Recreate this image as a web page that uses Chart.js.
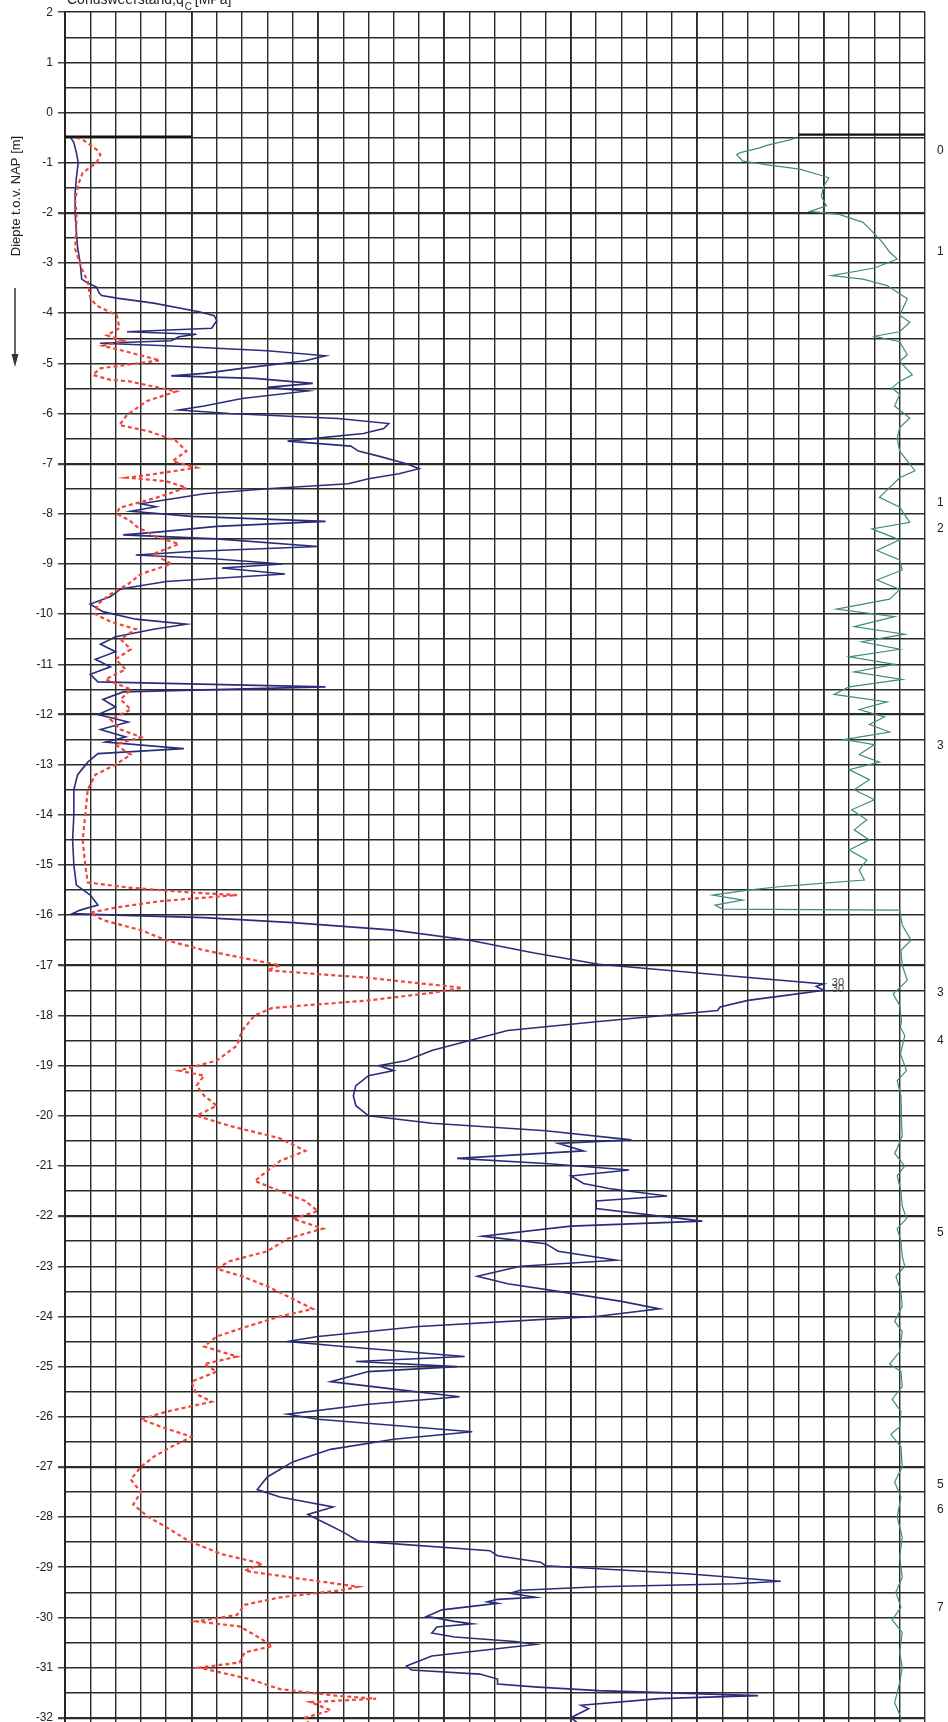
<!DOCTYPE html>
<html>
<head>
<meta charset="utf-8">
<script src="https://cdn.jsdelivr.net/npm/chart.js@4"></script>
<style>
  html, body { margin: 0; padding: 0; background: #fff; overflow: hidden; }
  #sondering { display: block; }
</style>
</head>
<body>
<canvas id="sondering" width="948" height="1755"></canvas>
<script>
// conusweerstand qc [MPa]
const qcDepth = [-0.48,-0.6,-0.8,-1.0,-1.3,-1.6,-2.0,-2.4,-2.7,-3.0,-3.32,-3.4,-3.48,-3.6,-3.65,-3.7,-3.8,-3.97,-4.05,-4.15,-4.3,-4.37,-4.42,-4.47,-4.55,-4.6,-4.65,-4.75,-4.85,-4.95,-5.1,-5.2,-5.25,-5.3,-5.4,-5.48,-5.55,-5.7,-5.85,-5.93,-6.0,-6.1,-6.2,-6.3,-6.4,-6.55,-6.65,-6.75,-6.85,-7.0,-7.1,-7.2,-7.3,-7.4,-7.5,-7.6,-7.73,-7.8,-7.86,-7.95,-8.05,-8.15,-8.25,-8.36,-8.42,-8.5,-8.65,-8.75,-8.82,-8.9,-9.0,-9.08,-9.2,-9.35,-9.5,-9.65,-9.8,-9.95,-10.1,-10.2,-10.3,-10.45,-10.6,-10.75,-10.9,-11.05,-11.2,-11.35,-11.45,-11.55,-11.7,-11.85,-12.0,-12.15,-12.3,-12.45,-12.55,-12.68,-12.78,-12.95,-13.2,-13.5,-14.0,-14.5,-15.0,-15.4,-15.6,-15.8,-15.9,-15.97,-16.0,-16.05,-16.15,-16.3,-16.5,-16.75,-16.98,-17.2,-17.37,-17.42,-17.5,-17.6,-17.7,-17.83,-17.9,-18.12,-18.3,-18.5,-18.7,-18.9,-19.0,-19.1,-19.2,-19.4,-19.6,-19.8,-20.0,-20.15,-20.3,-20.48,-20.55,-20.7,-20.85,-20.95,-21.08,-21.2,-21.35,-21.45,-21.6,-21.7,-21.85,-22.1,-22.2,-22.4,-22.55,-22.7,-22.88,-23.0,-23.2,-23.35,-23.5,-23.7,-23.85,-24.0,-24.2,-24.4,-24.5,-24.6,-24.8,-24.9,-25.0,-25.1,-25.3,-25.45,-25.6,-25.75,-25.95,-26.05,-26.3,-26.45,-26.65,-26.9,-27.2,-27.45,-27.6,-27.8,-27.95,-28.1,-28.3,-28.48,-28.67,-28.77,-28.9,-28.97,-29.03,-29.13,-29.28,-29.33,-29.39,-29.46,-29.52,-29.6,-29.64,-29.69,-29.72,-29.85,-29.98,-30.08,-30.13,-30.19,-30.31,-30.39,-30.48,-30.54,-30.64,-30.77,-30.97,-31.05,-31.13,-31.23,-31.33,-31.39,-31.46,-31.56,-31.62,-31.75,-31.82,-32.0,-32.4];
const qcValue = [0.2,0.35,0.45,0.52,0.45,0.4,0.4,0.45,0.5,0.6,0.66,0.9,1.25,1.35,1.45,2.05,3.5,5.3,5.9,6.0,5.8,2.45,5.2,4.5,4.2,1.38,4.0,8.0,10.3,9.5,7.0,5.5,4.2,7.5,9.8,8.0,9.6,7.0,5.5,4.5,6.5,10.8,12.8,12.6,11.8,8.8,11.3,11.6,12.4,13.5,14.0,13.2,12.0,11.2,8.0,5.5,3.87,3.0,3.6,2.6,5.0,10.3,6.0,3.75,2.3,6.0,10.0,5.0,2.8,6.0,8.6,6.2,8.7,4.0,2.2,1.8,1.0,1.5,2.8,4.8,3.5,2.0,1.4,2.0,1.2,1.8,1.0,1.3,10.3,2.3,1.5,2.0,1.3,2.5,1.4,2.4,1.6,4.7,1.3,0.9,0.5,0.35,0.35,0.3,0.35,0.45,1.0,1.3,0.6,0.3,2.0,5.5,9.0,13.0,16.0,18.5,21.1,26.0,30.0,29.7,30.0,28.5,27.0,25.9,25.8,21.1,17.5,16.0,14.5,13.5,12.4,13.0,12.0,11.5,11.4,11.5,12.0,14.5,19.0,22.4,19.5,20.5,15.5,19.0,22.3,20.0,20.5,21.5,23.8,21.0,21.0,25.2,20.0,16.5,19.0,19.5,21.8,18.0,16.3,17.5,19.5,22.0,23.5,21.0,14.0,10.0,8.8,11.0,15.8,11.5,15.5,12.0,10.5,13.0,15.6,12.0,8.8,10.0,16.1,13.0,10.5,9.0,8.0,7.6,8.5,10.6,9.6,10.2,11.0,11.6,16.8,17.1,18.8,19.0,21.1,24.6,28.3,26.5,21.1,18.0,17.6,18.6,17.1,16.7,17.1,14.9,14.3,15.4,16.1,14.7,14.5,15.4,17.8,18.6,16.8,14.5,13.5,13.7,16.4,17.1,17.1,18.7,21.1,27.4,23.5,20.4,20.7,20.0,21.0];

// plaatselijke wrijving fs [kPa]
const fsDepth = [-0.5,-0.54,-0.74,-0.84,-1.0,-1.2,-1.4,-1.73,-2.0,-2.27,-2.72,-3.1,-3.37,-3.7,-3.85,-4.04,-4.3,-4.44,-4.55,-4.65,-4.77,-4.94,-5.1,-5.23,-5.33,-5.36,-5.56,-5.75,-6.03,-6.23,-6.36,-6.55,-6.75,-6.95,-7.08,-7.22,-7.28,-7.35,-7.48,-7.68,-7.88,-8.0,-8.13,-8.26,-8.46,-8.6,-8.8,-9.0,-9.2,-9.4,-9.6,-9.8,-10.0,-10.15,-10.3,-10.5,-10.7,-10.9,-11.1,-11.3,-11.5,-11.7,-11.9,-12.1,-12.3,-12.45,-12.6,-12.8,-13.0,-13.2,-13.5,-14.0,-14.5,-15.0,-15.35,-15.45,-15.55,-15.6,-15.72,-15.85,-15.95,-16.1,-16.3,-16.5,-16.7,-16.9,-17.0,-17.1,-17.25,-17.45,-17.55,-17.7,-17.85,-18.0,-18.3,-18.6,-18.9,-19.1,-19.2,-19.4,-19.6,-19.8,-20.0,-20.2,-20.45,-20.7,-20.9,-21.1,-21.3,-21.5,-21.7,-21.9,-22.05,-22.25,-22.45,-22.7,-22.9,-23.05,-23.2,-23.4,-23.6,-23.85,-24.0,-24.2,-24.4,-24.6,-24.8,-24.95,-25.1,-25.3,-25.55,-25.7,-25.9,-26.05,-26.2,-26.4,-26.6,-26.8,-27.0,-27.25,-27.5,-27.75,-28.0,-28.2,-28.48,-28.74,-28.93,-29.07,-29.13,-29.39,-29.46,-29.6,-29.75,-29.95,-30.08,-30.18,-30.35,-30.57,-30.7,-30.9,-31.0,-31.23,-31.43,-31.56,-31.62,-31.69,-31.85,-32.0,-32.4];
const fsValue = [9,14,25,28,25,14,11,8,9,9,8,13,18,20,25,41,43,33,46,30,49,75,28,22,36,51,88,65,49,43,67,88,96,85,104,67,49,80,96,72,43,41,51,57,72,90,70,84,60,50,36,26,24,36,56,44,52,40,48,32,52,44,52,36,44,60,40,52,40,24,18,16,14,16,18,50,100,136,76,40,20,30,60,80,110,150,170,160,240,314,290,240,164,150,140,136,120,90,110,104,110,120,104,130,170,190,170,160,150,170,190,200,180,204,176,160,130,120,140,160,176,196,170,144,120,110,136,110,120,100,104,116,80,60,76,100,84,70,60,52,60,54,66,80,98,124,156,142,158,232,218,170,142,136,104,138,150,164,142,138,106,146,170,214,246,194,210,190,200];

// wrijvingsgetal Rf [%]
const rfDepth = [-0.5,-0.54,-0.6,-0.66,-0.7,-0.8,-0.84,-0.97,-1.04,-1.13,-1.3,-1.47,-1.67,-1.86,-1.97,-2.03,-2.19,-2.39,-2.58,-2.78,-2.92,-3.1,-3.25,-3.32,-3.45,-3.71,-4.04,-4.18,-4.37,-4.46,-4.57,-4.83,-4.96,-5.23,-5.36,-5.49,-5.62,-5.85,-6.09,-6.28,-6.5,-6.75,-7.14,-7.28,-7.67,-7.87,-8.17,-8.3,-8.52,-8.73,-8.92,-9.12,-9.32,-9.51,-9.7,-9.9,-10.05,-10.25,-10.4,-10.55,-10.7,-10.85,-11.0,-11.15,-11.3,-11.45,-11.6,-11.75,-11.9,-12.05,-12.2,-12.35,-12.5,-12.6,-12.8,-12.95,-13.1,-13.3,-13.5,-13.7,-13.9,-14.1,-14.3,-14.5,-14.7,-14.9,-15.1,-15.3,-15.42,-15.5,-15.6,-15.7,-15.8,-15.88,-15.9,-16.2,-16.5,-16.7,-17.0,-17.3,-17.57,-17.8,-18.1,-18.24,-18.4,-18.77,-19.1,-19.3,-19.6,-19.9,-20.1,-20.4,-20.68,-20.75,-21.0,-21.2,-21.5,-21.8,-22.05,-22.25,-22.5,-22.8,-23.0,-23.2,-23.5,-23.8,-24.1,-24.3,-24.7,-24.95,-25.1,-25.4,-25.65,-25.9,-26.2,-26.35,-26.6,-27.0,-27.3,-27.6,-28.0,-28.4,-28.8,-29.2,-29.5,-29.8,-30.05,-30.3,-30.7,-31.0,-31.3,-31.7,-32.0,-32.4];
const rfValue = [5.1,5.3,5.8,6.3,6.5,7.3,7.45,7.2,6.3,4.95,3.8,4.0,4.1,3.9,4.55,3.4,2.45,2.05,1.7,1.4,1.1,2.0,3.7,2.45,1.5,0.7,1.0,0.6,1.0,2.0,1.0,0.7,1.0,0.5,1.0,1.3,1.0,1.2,0.6,1.0,1.1,1.0,0.4,1.0,1.8,1.0,0.6,2.1,1.0,1.9,1.0,0.9,1.9,1.0,1.4,3.5,1.2,2.8,0.8,2.5,1.0,3.0,1.2,2.8,0.9,3.0,3.6,1.5,2.6,1.6,2.2,1.4,3.2,2.0,2.6,1.8,3.0,2.2,2.8,2.0,2.9,2.3,2.8,2.2,3.0,2.3,2.6,2.4,5.5,7.0,8.4,7.2,8.3,8.0,1.0,0.9,0.55,0.95,0.9,0.7,1.26,1.0,0.93,0.97,0.8,0.97,0.73,1.1,0.95,0.93,0.93,0.9,1.13,1.2,0.8,1.1,0.95,0.9,0.73,1.1,0.95,0.9,0.8,1.15,0.95,0.9,1.2,0.9,1.0,1.4,0.95,0.9,1.3,0.95,1.0,1.35,0.95,0.9,1.2,0.95,1.1,0.9,1.0,0.9,1.15,0.95,1.3,0.9,1.0,0.9,1.0,1.2,0.95,1.0];

// start niveau van de sondering
const qcStartDepth = -0.48;
const qcStartRange = [0, 5];
const rfStartDepth = -0.44;
const rfStartRange = [0, 5];

// afgekapte waarden (qc > 30 MPa)
const clipDepth = [-17.37, -17.5];
const clipValue = [30, 30];

// labels rechts naast de grafiek
const sideDepth = [-0.77, -2.77, -7.77, -8.3, -12.62, -17.55, -18.5, -22.34, -27.35, -27.85, -29.8];
const sideText = ["0", "1", "1", "2", "3", "3", "4", "5", "5", "6", "7"];

const depthMin = -32.5;
const depthMax = 2;
const heavyDepths = [-2, -7, -12, -17, -22, -27, -32];

function toPoints(depths, values) {
  let pts = [];
  let i = 0;
  while (i < depths.length) {
    pts.push({ x: values[i], y: depths[i] });
    i++;
  }
  return pts;
}

const textPlugin = {
  id: "sonderingText",
  afterDraw(chart) {
    const ctx = chart.ctx;
    const x = chart.scales.x;
    const y = chart.scales.y;
    ctx.save();
    ctx.fillStyle = "#222";

    // titel (valt grotendeels buiten beeld)
    ctx.font = "14px 'Liberation Sans', Arial, sans-serif";
    ctx.textAlign = "left";
    ctx.textBaseline = "alphabetic";
    ctx.fillText("Conusweerstand,q", 67, 4);
    let w = ctx.measureText("Conusweerstand,q").width;
    ctx.font = "10px 'Liberation Sans', Arial, sans-serif";
    ctx.fillText("C", 67 + w + 1, 10);
    ctx.font = "14px 'Liberation Sans', Arial, sans-serif";
    ctx.fillText("[MPa]", 67 + w + 11, 4);

    // as-titel diepte
    ctx.save();
    ctx.translate(16, 196);
    ctx.rotate(-Math.PI / 2);
    ctx.font = "13px 'Liberation Sans', Arial, sans-serif";
    ctx.textAlign = "center";
    ctx.textBaseline = "middle";
    ctx.fillText("Diepte t.o.v. NAP [m]", 0, 0);
    ctx.restore();

    // pijl naar beneden
    ctx.strokeStyle = "#333";
    ctx.lineWidth = 1.5;
    ctx.beginPath();
    ctx.moveTo(15, 288);
    ctx.lineTo(15, 358);
    ctx.stroke();
    ctx.fillStyle = "#333";
    ctx.beginPath();
    ctx.moveTo(11.5, 354);
    ctx.lineTo(18.5, 354);
    ctx.lineTo(15, 367);
    ctx.closePath();
    ctx.fill();

    // labels rechts
    ctx.fillStyle = "#222";
    ctx.font = "12px 'Liberation Sans', Arial, sans-serif";
    ctx.textAlign = "left";
    ctx.textBaseline = "middle";
    let k = 0;
    while (k < sideDepth.length) {
      ctx.fillText(sideText[k], 937, y.getPixelForValue(sideDepth[k]));
      k++;
    }

    // 30 bij afgekapte pieken
    ctx.font = "11px 'Liberation Sans', Arial, sans-serif";
    ctx.fillStyle = "#444";
    let c = 0;
    while (c < clipDepth.length) {
      ctx.fillText(String(clipValue[c]), x.getPixelForValue(clipValue[c]) + 8, y.getPixelForValue(clipDepth[c]) - 1);
      c++;
    }
    ctx.restore();
  },
};

new Chart(document.getElementById("sondering"), {
  type: "line",
  data: {
    datasets: [
      {
        label: "qc start",
        data: [{ x: qcStartRange[0], y: qcStartDepth }, { x: qcStartRange[1], y: qcStartDepth }],
        borderColor: "#111",
        borderWidth: 2.2,
        xAxisID: "x",
      },
      {
        label: "Rf start",
        data: [{ x: rfStartRange[0], y: rfStartDepth }, { x: rfStartRange[1], y: rfStartDepth }],
        borderColor: "#111",
        borderWidth: 2.2,
        xAxisID: "xRf",
      },
      {
        label: "fs",
        data: toPoints(fsDepth, fsValue),
        borderColor: "#f0463a",
        borderWidth: 2.2,
        borderDash: [4, 3],
        xAxisID: "xFs",
      },
      {
        label: "Rf",
        data: toPoints(rfDepth, rfValue),
        borderColor: "#3f8c80",
        borderWidth: 1.2,
        xAxisID: "xRf",
      },
      {
        label: "qc",
        data: toPoints(qcDepth, qcValue),
        borderColor: "#2b2d7c",
        borderWidth: 1.6,
        xAxisID: "x",
      },
    ],
  },
  options: {
    responsive: false,
    animation: false,
    devicePixelRatio: 1,
    parsing: false,
    elements: { point: { radius: 0 }, line: { tension: 0 } },
    layout: { padding: { top: 10.5, right: 23, bottom: 0, left: 0 } },
    plugins: { legend: { display: false }, tooltip: { enabled: false } },
    scales: {
      x: {
        type: "linear",
        position: "top",
        min: 0,
        max: 34,
        ticks: { display: false, stepSize: 1 },
        border: { display: false },
        grid: {
          drawTicks: false,
          color: "#2a2a2a",
          lineWidth: (c) => (c.tick && c.tick.value % 5 === 0 ? 1.9 : 1.4),
        },
        afterFit: (scale) => { scale.height = 0; },
      },
      xFs: { type: "linear", display: false, min: 0, max: 680 },
      xRf: { type: "linear", display: false, min: 0, max: 34, reverse: true },
      y: {
        type: "linear",
        min: depthMin,
        max: depthMax,
        ticks: {
          stepSize: 0.5,
          autoSkip: false,
          color: "#222",
          padding: 5,
          font: { family: "'Liberation Sans', Arial, sans-serif", size: 12 },
          callback: (v) => (Number.isInteger(v) ? String(v) : ""),
        },
        border: { color: "#222", width: 1.8 },
        grid: {
          tickLength: 7,
          color: "#2a2a2a",
          tickColor: (c) => (Number.isInteger(c.tick.value) ? "#444" : "rgba(0,0,0,0)"),
          lineWidth: (c) => (c.tick && heavyDepths.includes(c.tick.value) ? 2.3 : 1.5),
        },
        afterFit: (scale) => { scale.width = 65; },
      },
    },
  },
  plugins: [textPlugin],
});
</script>
</body>
</html>
